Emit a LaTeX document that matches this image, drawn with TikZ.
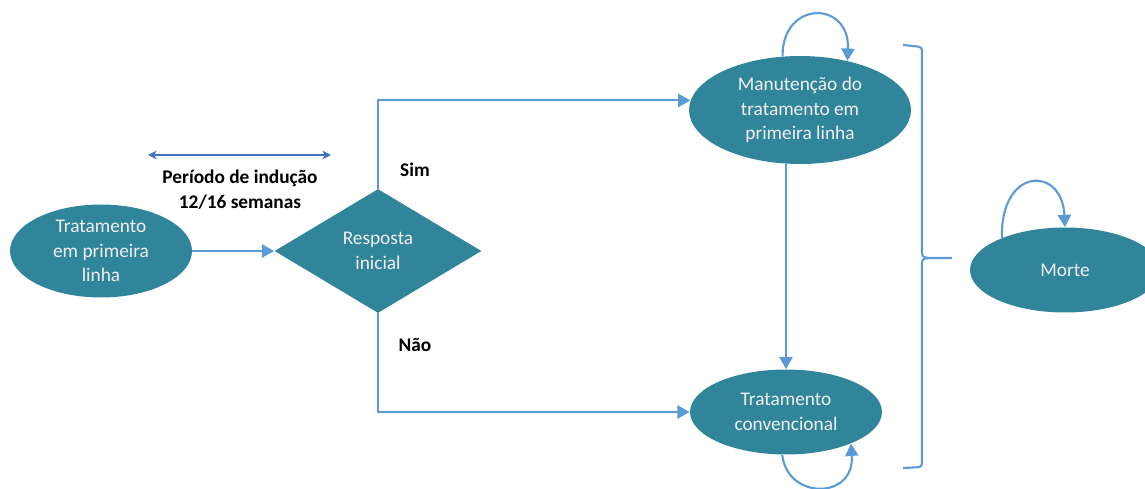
\documentclass[tikz,border=0pt]{standalone}
\usepackage{fontspec}
\setmainfont{Carlito}
\usetikzlibrary{arrows.meta,shapes.geometric}

\definecolor{teal}{RGB}{49,133,155}
\definecolor{lineblue}{RGB}{91,155,213}
\definecolor{darkblue}{RGB}{68,114,196}

\begin{document}
\begin{tikzpicture}[x=0.02cm, y=-0.02cm,
    >={Triangle[width=7.5pt,length=7pt]},
    state/.style = {
      ellipse,
      fill = teal,
      text = white!94!black,
      align = center,
      inner sep = 0pt,
      font = \fontsize{11}{14}\selectfont
    },
    decision/.style = {
      diamond,
      fill = teal,
      text = white!94!black,
      align = center,
      inner sep = 0pt,
      minimum width = 4.14cm,
      minimum height = 2.48cm,
      font = \fontsize{11}{14}\selectfont
    },
    flow/.style = {
      draw = lineblue,
      line width = 1.2pt,
      ->
    },
    tag/.style = {
      font = \bfseries\fontsize{11}{14.2}\selectfont,
      align = center
    }
  ]
  \useasboundingbox (0,0) rectangle (1145,489);

  \node[state, minimum width=3.64cm, minimum height=1.86cm] (trat) at (101,251)
    {Tratamento\\em primeira\\linha};
  \node[decision] (resp) at (378,251) {Resposta\\inicial};
  \node[state, minimum width=4.44cm, minimum height=2.16cm] (manut) at (800,110)
    {Manutenção do\\tratamento em\\primeira linha};
  \node[state, minimum width=3.84cm, minimum height=1.70cm] (tconv) at (786,412)
    {Tratamento\\convencional};
  \node[state, minimum width=3.80cm, minimum height=1.70cm] (morte) at (1065,270)
    {Morte};

  \coordinate (ind1) at (148,155);
  \coordinate (ind2) at (331,155);
  \draw[darkblue, line width=0.8pt, {Stealth[width=5pt,length=5pt]}-{Stealth[width=5pt,length=5pt]}]
    (ind1) -- (ind2);
  \node[tag] (induc) at (240,190) {Período de indução\\12/16 semanas};

  \node[tag] (sim) at (415,170) {Sim};
  \node[tag] (nao) at (415,345) {Não};

  \draw[flow] (trat.east) -- (resp.west);
  \draw[flow] (resp.north) |- (manut.175);
  \draw[flow] (resp.south) |- (tconv.west);
  \draw[flow] (manut.south -| tconv.north) -- (tconv.north);

  \draw[flow] (manut.108) .. controls (782,0) and (850,0) .. (manut.46);
  \draw[flow] (tconv.265) .. controls (787,500) and (855,500) .. (tconv.-26);
  \draw[flow] (morte.153) .. controls (1000,167) and (1062,165) .. (morte.north);

  \draw[lineblue, line width=1.2pt, rounded corners=2pt]
    (903,45) -- (922,47) -- (922,250);
  \draw[lineblue, line width=1.2pt]
    (922,250) .. controls (922,257) .. (929,258) -- (952,258);
  \draw[lineblue, line width=1.2pt]
    (929,258) .. controls (922,259) .. (922,266);
  \draw[lineblue, line width=1.2pt, rounded corners=2pt]
    (922,266) -- (922,467) -- (903,468);
\end{tikzpicture}
\end{document}
